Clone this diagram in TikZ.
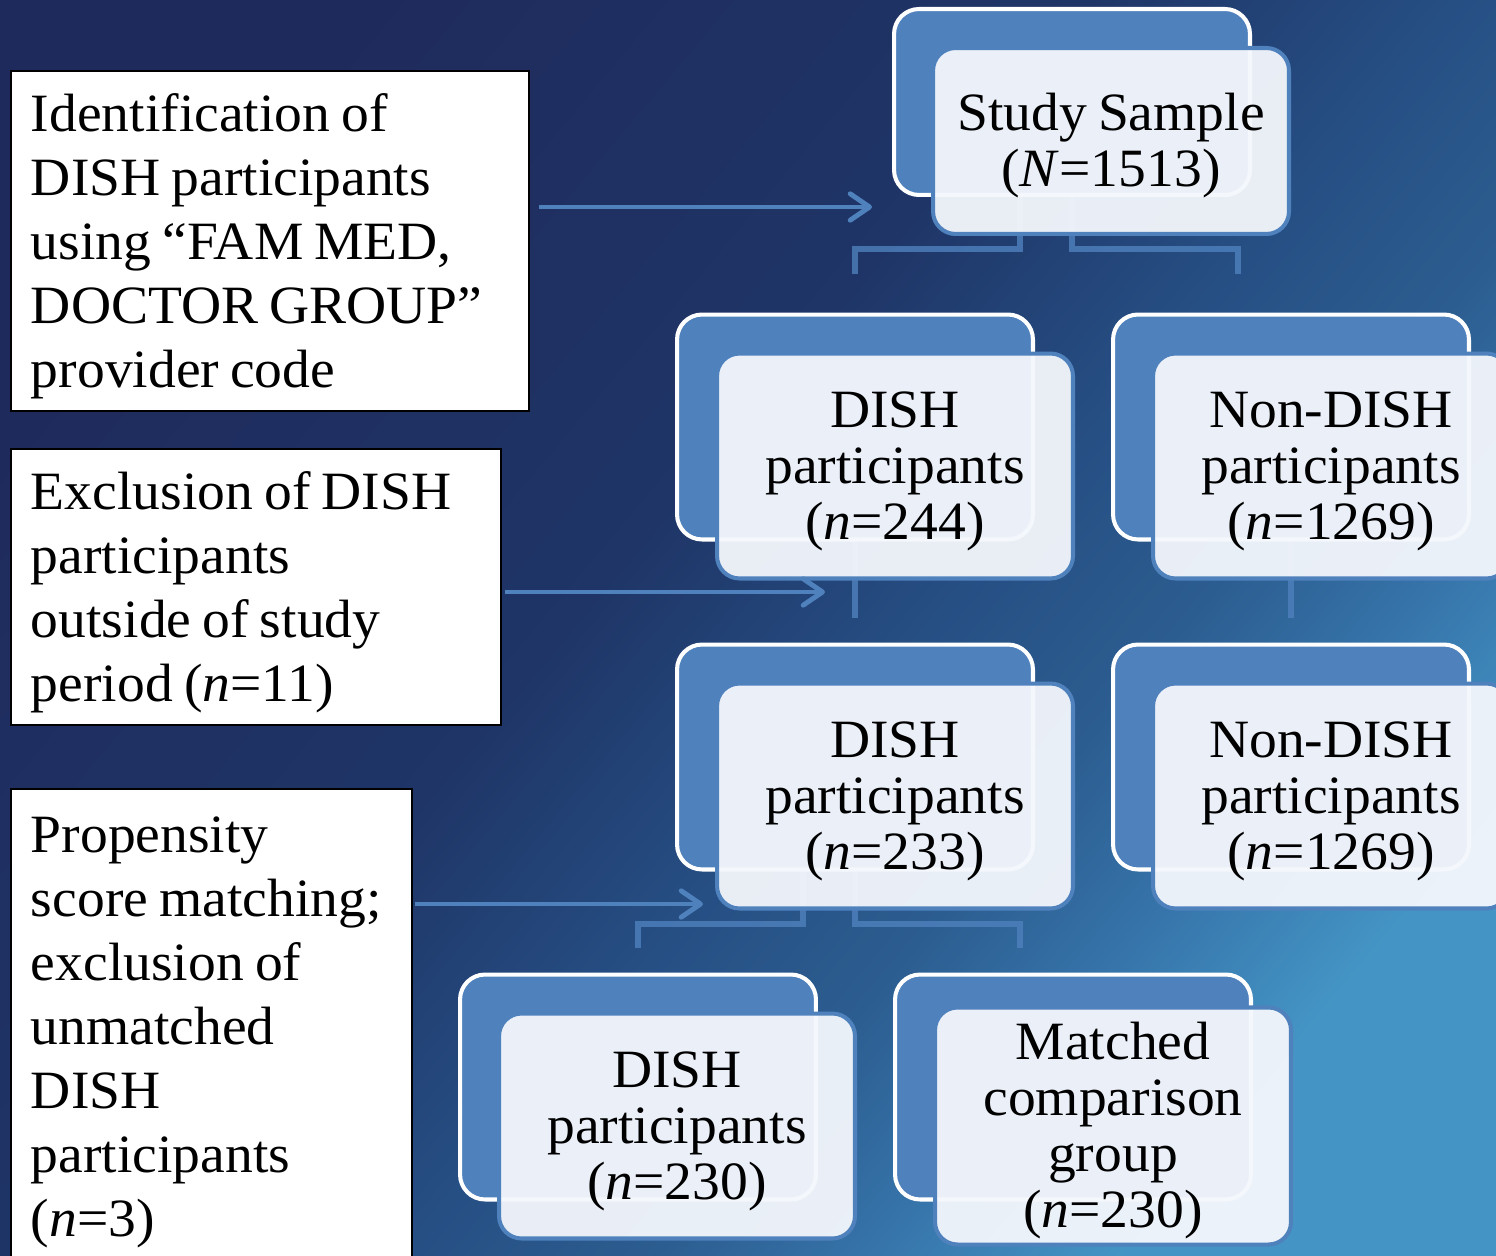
\documentclass[tikz,border=0pt]{standalone}
\usepackage{fontspec}
\setmainfont{Liberation Serif}[FakeStretch=1.03, WordSpace=0.8]
\usetikzlibrary{arrows.meta,positioning,calc}
\definecolor{dsnavy}{HTML}{1F2A5C}
\definecolor{dsdusk}{HTML}{1F3567}
\definecolor{dsdeep}{HTML}{264F84}
\definecolor{dsmid}{HTML}{2C5D90}
\definecolor{dslight}{HTML}{3674AA}
\definecolor{dsteal}{HTML}{4495C5}
\definecolor{dsblue}{HTML}{4F81BD}
\definecolor{dspale}{HTML}{F4F7FC}
\pgfdeclarehorizontalshading{bgdiag}{100bp}{color(0bp)=(dsnavy); color(25bp)=(dsnavy);
    color(45bp)=(dsdusk); color(55bp)=(dsdeep); color(62bp)=(dsmid);
    color(68bp)=(dslight); color(75bp)=(dsteal); color(100bp)=(dsteal)}
\newcommand{\nstrut}{\rule{0pt}{27.5pt}}
\newcommand{\fstrut}{\rule{0pt}{26pt}}
\hyphenpenalty=10000

\begin{document}
\begin{tikzpicture}[
    x=0.02cm, y=-0.02cm,
    notebox/.style={
        draw=black,
        line width=1.1pt,
        fill=white,
        anchor=north west,
        align=flush left,
        inner xsep=0.4cm,
        inner ysep=0pt,
        font=\fontsize{30.7}{36.4}\selectfont
    },
    backbox/.style={
        rounded corners=0.5cm,
        draw=white,
        line width=2.3pt,
        fill=dsblue,
        minimum width=7.12cm,
        minimum height=4.5cm
    },
    frontbox/.style={
        rounded corners=0.45cm,
        draw=dsblue,
        line width=2.3pt,
        fill=dspale,
        fill opacity=0.95,
        text opacity=1,
        minimum width=7.12cm,
        minimum height=4.5cm,
        align=flush center,
        font=\fontsize{30.7}{31.9}\selectfont
    },
    short/.style={minimum height=3.72cm},
    link/.style={
        draw=dsblue,
        draw opacity=0.8,
        line width=3pt
    },
    arrow/.style={
        -{Straight Barb[length=11pt,width=15pt,round]},
        draw=dsblue,
        line width=2.8pt
    }
]

\useasboundingbox (0,0) rectangle (1496,1256);
\shade[shading=bgdiag, shading angle=-40] (0,0) rectangle (1496,1256);

% left notes
\node[notebox, text width=9.56cm, minimum width=10.36cm, minimum height=6.8cm] (idbox) at (10,70)
    {\nstrut Identification of\\DISH participants\\using “FAM MED,\\DOCTOR GROUP”\\provider code};
\node[notebox, text width=9.0cm, minimum width=9.8cm, minimum height=5.52cm] (exbox) at (10,448)
    {\nstrut Exclusion of DISH\\participants\\outside of study\\period (\textit{n}=11)};
\node[notebox, text width=7.22cm, minimum width=8.02cm, minimum height=9.48cm] (psbox) at (10,788)
    {\nstrut Propensity\\score~matching;\\exclusion of\\unmatched\\DISH\\participants\\(\textit{n}=3)};

% free ends
\coordinate (a1e) at (872,207);
\coordinate (a2e) at (825,592);
\coordinate (a3e) at (703,904);
\coordinate (t1) at (855,274);
\coordinate (t2) at (1238,274);
\coordinate (m1) at (855,618);
\coordinate (m2) at (1291,618);
\coordinate (b1) at (638,948);
\coordinate (b2) at (1020,948);

% connectors under the boxes
\draw[link] (1020,196) |- (t1 |- 0,249) -- (t1);
\draw[link] (1072,196) |- (t2 |- 0,249) -- (t2);
\draw[link] (855,541) -- (m1);
\draw[link] (1291,541) -- (m2);
\draw[link] (803,871) |- (b1 |- 0,924) -- (b1);
\draw[link] (855,871) |- (b2 |- 0,924) -- (b2);

% study boxes
\node[backbox, short] (studyb) at (1072,102) {};
\node[frontbox, short] (study) at (1111,141) {\fstrut Study Sample\\(\textit{N}=1513)};

\node[backbox] (dishAb) at (855,427) {};
\node[frontbox] (dishA) at (895,466) {\fstrut DISH\\participants\\(\textit{n}=244)};
\node[backbox] (nondAb) at (1291,427) {};
\node[frontbox] (nondA) at (1331,466) {\fstrut Non-DISH\\participants\\(\textit{n}=1269)};

\node[backbox] (dishBb) at (855,757) {};
\node[frontbox] (dishB) at (895,796) {\fstrut DISH\\participants\\(\textit{n}=233)};
\node[backbox] (nondBb) at (1291,757) {};
\node[frontbox] (nondB) at (1331,796) {\fstrut Non-DISH\\participants\\(\textit{n}=1269)};

\node[backbox] (dishCb) at (638,1087) {};
\node[frontbox] (dishC) at (677,1126) {\fstrut DISH\\participants\\(\textit{n}=230)};
\node[backbox] (matchb) at (1073,1087) {};
\node[frontbox] (match) at (1113,1126) {\fstrut Matched\\comparison\\group\\(\textit{n}=230)};

% arrows from the notes
\draw[arrow, shorten <=0.18cm] (idbox.east |- a1e) -- (a1e);
\draw[arrow, shorten <=0.06cm] (exbox.east |- a2e) -- (a2e);
\draw[arrow, shorten <=0.04cm] (psbox.east |- a3e) -- (a3e);

\end{tikzpicture}
\end{document}
